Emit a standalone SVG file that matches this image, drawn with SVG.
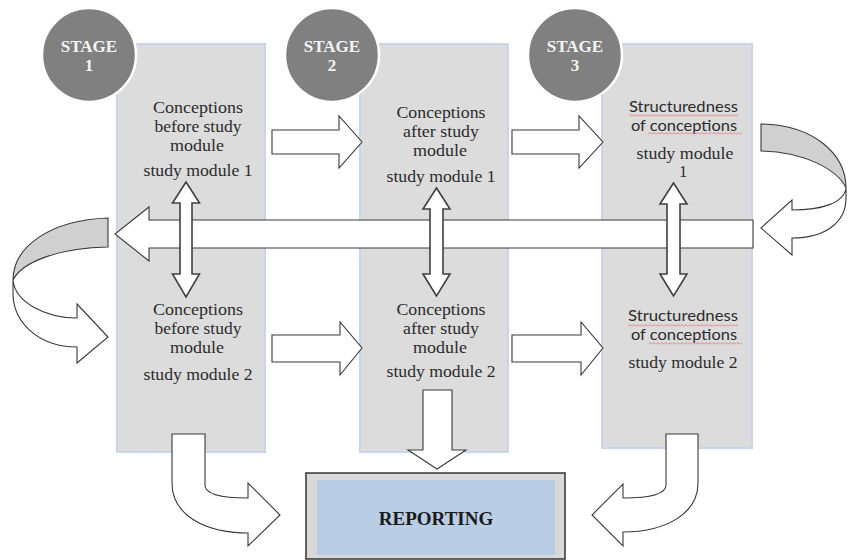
<svg xmlns="http://www.w3.org/2000/svg" width="848" height="560" viewBox="0 0 848 560">
<defs>
<style>
.col{fill:#dcdcdc;stroke:#c8d5ea;stroke-width:2}
.stage{fill:#808080;stroke:#ffffff;stroke-width:2.5}
.stxt{font-family:"Liberation Serif",serif;font-weight:bold;font-size:17px;fill:#f4f4f4;text-anchor:middle}
.t{font-family:"Liberation Serif",serif;font-size:16.5px;fill:#2b2b2b;text-anchor:middle}
.s{font-family:Lato,"Noto Sans",sans-serif;font-size:15px;fill:#2b2b2b;text-anchor:middle}
.arr{fill:#ffffff;stroke:#3a3a3a;stroke-width:1.1;stroke-linejoin:miter}
.varr{fill:#ffffff;stroke:#404040;stroke-width:1.6}
.back{fill:#d0d0d0;stroke:#3a3a3a;stroke-width:1.1}
.rep{font-family:"Liberation Serif",serif;font-weight:bold;font-size:19px;fill:#1a1a1a;text-anchor:middle}
</style>
<pattern id="squig" width="4" height="3" patternUnits="userSpaceOnUse"><path d="M0,2.5 L2,0.5 L4,2.5" fill="none" stroke="#e26a6a" stroke-width="0.8"/></pattern>
</defs>

<g id="column1">
<rect class="col" x="117" y="44" width="148" height="408"/>
</g>
<g id="column2">
<rect class="col" x="360" y="44" width="148" height="408"/>
</g>
<g id="column3">
<rect class="col" x="602" y="44" width="150" height="404"/>
</g>

<g id="stage1">
<circle class="stage" cx="89" cy="55" r="47"/>
<text class="stxt" x="89" y="52">STAGE</text>
<text class="stxt" x="89" y="71">1</text>
</g>
<g id="stage2">
<circle class="stage" cx="332" cy="55" r="47"/>
<text class="stxt" x="332" y="52">STAGE</text>
<text class="stxt" x="332" y="71">2</text>
</g>
<g id="stage3">
<circle class="stage" cx="575" cy="55" r="47"/>
<text class="stxt" x="575" y="52">STAGE</text>
<text class="stxt" x="575" y="71">3</text>
</g>

<g id="node-c1-m1">
<text class="t" x="198" y="113" textLength="90" lengthAdjust="spacingAndGlyphs">Conceptions</text>
<text class="t" x="198" y="132" textLength="87" lengthAdjust="spacingAndGlyphs">before study</text>
<text class="t" x="197" y="151" textLength="54" lengthAdjust="spacingAndGlyphs">module</text>
<text class="t" x="198" y="176" textLength="109" lengthAdjust="spacingAndGlyphs">study module 1</text>
</g>
<g id="node-c2-m1">
<text class="t" x="441" y="118" textLength="89" lengthAdjust="spacingAndGlyphs">Conceptions</text>
<text class="t" x="441" y="137" textLength="76" lengthAdjust="spacingAndGlyphs">after study</text>
<text class="t" x="440" y="156" textLength="54" lengthAdjust="spacingAndGlyphs">module</text>
<text class="t" x="441" y="182" textLength="109" lengthAdjust="spacingAndGlyphs">study module 1</text>
</g>
<g id="node-c3-m1">
<text class="s" x="683.5" y="111.5" textLength="109" lengthAdjust="spacingAndGlyphs">Structuredness</text>
<text class="s" x="684" y="130.5" textLength="106" lengthAdjust="spacingAndGlyphs">of conceptions</text>
<rect x="629" y="114" width="109" height="3" fill="url(#squig)"/>
<rect x="648" y="132" width="94" height="3" fill="url(#squig)"/>
<text class="t" x="685" y="159" textLength="97" lengthAdjust="spacingAndGlyphs">study module</text>
<text class="t" x="683" y="177">1</text>
</g>
<g id="node-c1-m2">
<text class="t" x="198" y="315" textLength="90" lengthAdjust="spacingAndGlyphs">Conceptions</text>
<text class="t" x="198" y="334" textLength="87" lengthAdjust="spacingAndGlyphs">before study</text>
<text class="t" x="197" y="353" textLength="54" lengthAdjust="spacingAndGlyphs">module</text>
<text class="t" x="198" y="380" textLength="109" lengthAdjust="spacingAndGlyphs">study module 2</text>
</g>
<g id="node-c2-m2">
<text class="t" x="441" y="315" textLength="89" lengthAdjust="spacingAndGlyphs">Conceptions</text>
<text class="t" x="441" y="334" textLength="76" lengthAdjust="spacingAndGlyphs">after study</text>
<text class="t" x="440" y="353" textLength="54" lengthAdjust="spacingAndGlyphs">module</text>
<text class="t" x="441" y="377" textLength="109" lengthAdjust="spacingAndGlyphs">study module 2</text>
</g>
<g id="node-c3-m2">
<text class="s" x="683" y="321" textLength="110" lengthAdjust="spacingAndGlyphs">Structuredness</text>
<text class="s" x="684" y="340" textLength="106" lengthAdjust="spacingAndGlyphs">of conceptions</text>
<rect x="628" y="324" width="110" height="3" fill="url(#squig)"/>
<rect x="649" y="342" width="93" height="3" fill="url(#squig)"/>
<text class="t" x="683" y="368" textLength="109" lengthAdjust="spacingAndGlyphs">study module 2</text>
</g>

<g id="connectors">
<path class="arr" d="M272,130 L339,130 L339,116 L362,142 L339,168 L339,154 L272,154 Z"/>
<path class="arr" d="M512,130 L579,130 L579,116 L603,142 L579,168 L579,154 L512,154 Z"/>
<path class="arr" d="M272,335 L340,335 L340,322 L362,348 L340,375 L340,362 L272,362 Z"/>
<path class="arr" d="M512,335 L581,335 L581,322 L603,348 L581,375 L581,362 L512,362 Z"/>
<path class="arr" d="M753,220 L149,220 L149,207 L115,234 L149,261 L149,248 L753,248 Z"/>
<path class="varr" d="M186,182 L199.5,203 L192,203 L192,274 L199.5,274 L186,297 L172.5,274 L180,274 L180,203 L172.5,203 Z"/>
<path class="varr" d="M436.5,188 L450,209 L443,209 L443,274 L450,274 L436.5,296 L423,274 L430,274 L430,209 L423,209 Z"/>
<path class="varr" d="M673.5,183 L687,204 L680,204 L680,274 L687,274 L673.5,296 L660,274 L667,274 L667,204 L660,204 Z"/>
<path class="back" d="M761,124 C815,125 846,155 846,188 C838,170 805,152 761,151 Z"/>
<path class="arr" d="M846,188 C844,203 822,210 792,210 L792,200 L761,228 L792,255 L792,238 C826,238 846,222 846,198 Z"/>
<path class="back" d="M108,218 C50,220 13,247 13,280 C22,262 58,248 108,247 Z"/>
<path class="arr" d="M13,280 C15,302 45,318 77,318 L77,304 L108,337 L77,363 L77,347 C38,347 13,322 13,293 Z"/>
<path class="arr" d="M423,390 L452,390 L452,450 L466,450 L437,469 L408,450 L423,450 Z"/>
<path class="arr" d="M172,434 L205,434 L205,485 C205,494 220,498 248,498 L248,483 L280,515 L248,546 L248,533 C205,533 172,515 172,483 Z"/>
<path class="arr" d="M698,434 L666,434 L666,485 C666,494 651,498 623,498 L623,484 L592,515 L623,546 L623,532 C665,532 698,514 698,483 Z"/>
</g>

<g id="reporting">
<rect x="306" y="473" width="259" height="86" fill="#d9d9d9" stroke="#333333" stroke-width="1.5"/>
<rect x="317" y="480" width="238" height="75" fill="#b9cde4"/>
<text class="rep" x="436" y="525">REPORTING</text>
</g>
</svg>
